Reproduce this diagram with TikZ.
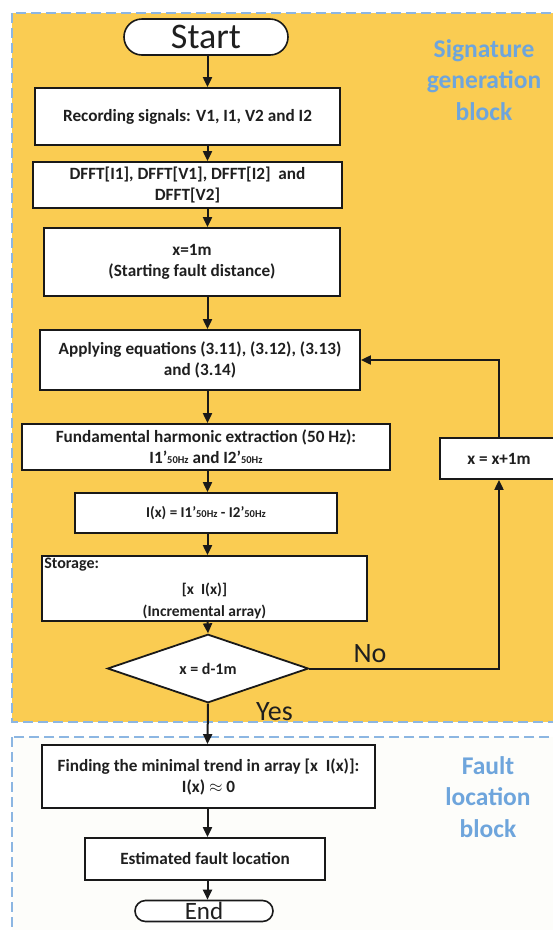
\documentclass[tikz,border=0pt]{standalone}
\usepackage{fontspec}
\setmainfont{Carlito}
\usetikzlibrary{positioning,arrows.meta,calc,shapes.geometric,shapes.misc}
\definecolor{sigyellow}{RGB}{250,204,82}
\definecolor{faultwhite}{RGB}{253,253,250}
\definecolor{regionblue}{RGB}{140,182,226}
\definecolor{tagblue}{RGB}{110,165,220}
\newcommand{\subhz}{{\fontsize{10.5}{10}\selectfont 50Hz}}
\tikzset{
  flow/.style={-{Triangle[length=10pt,width=9pt]}, line width=2pt, draw=black!90},
  block/.style={draw=black!90, fill=white, line width=1.8pt, inner sep=2pt,
    align=center, font=\bfseries\fontsize{17.2}{21}\selectfont, text=black!88},
  terminal/.style={rounded rectangle, draw=black!90, fill=white, line width=1.6pt,
    inner sep=0pt, text=black!88},
  decision/.style={diamond, draw=black!90, fill=white, line width=1.8pt,
    inner sep=0pt, font=\bfseries\fontsize{16}{21}\selectfont, text=black!88},
  region/.style={draw=regionblue, dash pattern=on 10pt off 5pt, line width=2pt},
  blocktag/.style={font=\bfseries\fontsize{25.5}{31.5}\selectfont, text=tagblue, align=center},
  answer/.style={font=\fontsize{28}{28}\selectfont, text=black!88}
}

\begin{document}
\begin{tikzpicture}[x=1pt,y=-1pt]
  \useasboundingbox (0,0) rectangle (553,930);
  \clip (0,0) rectangle (553,930);
  % the two dashed regions
  \fill[sigyellow] (12,13) rectangle (570,722);
  \draw[region] (12,13) rectangle (570,722);
  \fill[faultwhite] (12,737) rectangle (570,950);
  \draw[region] (12,737) rectangle (570,950);
  \node[blocktag] (sigtag) at (484,80) {Signature\\generation\\block};
  \node[blocktag] (faulttag) at (488,797) {Fault\\location\\block};

  \coordinate (spine) at (207.5,0);
  \node[terminal, minimum width=164pt, minimum height=36pt,
    font=\fontsize{36}{36}\selectfont] (start) at (206,37) {Start};
  \node[block, minimum width=305pt, minimum height=57pt] (rec) at (187.5,116.5)
    {Recording signals: V1, I1, V2 and I2};
  \node[block, minimum width=309pt, minimum height=46pt] (dfft) at (187.5,185)
    {DFFT[I1], DFFT[V1], DFFT[I2]\ \ and\\DFFT[V2]};
  \node[block, minimum width=296pt, minimum height=68pt] (xinit) at (192,262)
    {x=1m\\(Starting fault distance)};
  \node[block, minimum width=320pt, minimum height=60pt] (apply) at (200,360)
    {Applying equations (3.11), (3.12), (3.13)\\and (3.14)};
  \node[block, minimum width=368pt, minimum height=46pt] (fund) at (206,447)
    {Fundamental harmonic extraction (50 Hz):\\I1'\subhz{} and I2'\subhz};
  \node[block, minimum width=262pt, minimum height=40pt,
    font=\bfseries\fontsize{15}{20}\selectfont] (ix) at (206,513)
    {I(x) = I1'\subhz{} - I2'\subhz};
  \node[block, minimum width=325pt, minimum height=65pt,
    font=\bfseries\fontsize{15.5}{21.5}\selectfont,
    label={[anchor=north west, inner sep=3pt, text=black!88,
      font=\bfseries\fontsize{16}{18}\selectfont]north west:Storage:}] (store) at (204.5,588.5)
    {\strut\\{}[x\ \ I(x)]\\(Incremental array)};
  \node[decision, minimum width=201pt, minimum height=66pt] (check) at (208,668.5)
    {x = d-1m};
  \node[block, minimum width=118pt, minimum height=41pt] (incr) at (499,458.5)
    {x = x+1m};

  \node[block, minimum width=333pt, minimum height=63pt] (find) at (208.5,776.5)
    {Finding the minimal trend in array [x\ \ I(x)]:\\I(x) $\approx$ 0};
  \node[block, minimum width=240pt, minimum height=42pt] (estim) at (205,859)
    {Estimated fault location};
  \node[terminal, minimum width=138pt, minimum height=21pt,
    font=\fontsize{25}{25}\selectfont] (finish) at (204,911) {End};

  \draw[flow] (spine |- start.south) -- (spine |- rec.north);
  \draw[flow] (spine |- rec.south) -- (spine |- dfft.north);
  \draw[flow] (spine |- dfft.south) -- (spine |- xinit.north);
  \draw[flow] (spine |- xinit.south) -- (spine |- apply.north);
  \draw[flow] (spine |- apply.south) -- (spine |- fund.north);
  \draw[flow] (spine |- fund.south) -- (spine |- ix.north);
  \draw[flow] (spine |- ix.south) -- (spine |- store.north);
  \draw[flow] (spine |- store.south) -- (check.north);
  \draw[flow] (check.south) -- (spine |- find.north)
    node[answer, pos=0.2, right=44pt] {Yes};
  \draw[flow] (check.east) -| (incr.south)
    node[answer, pos=0.16, above=1pt] {No};
  \draw[flow] (incr.north) |- (apply.east);
  \draw[flow] (spine |- find.south) -- (spine |- estim.north);
  \draw[flow] (spine |- estim.south) -- (spine |- finish.north);
\end{tikzpicture}
\end{document}
